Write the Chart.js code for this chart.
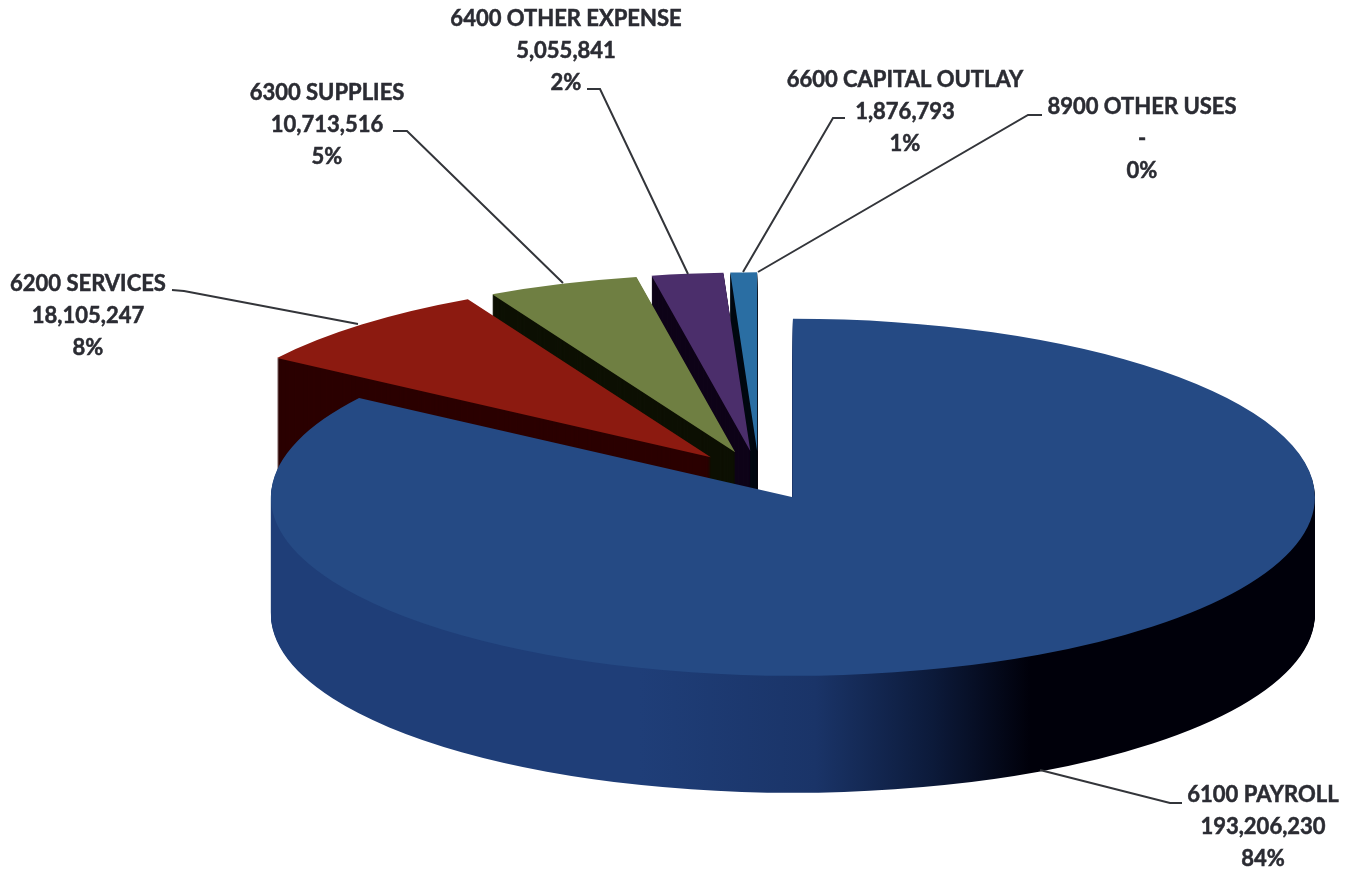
<!DOCTYPE html>
<html>
<head>
<meta charset="utf-8">
<title>Expenditures by object</title>
<style>
  html, body { margin: 0; padding: 0; background: #fff; }
  canvas { display: block; }
</style>
</head>
<body>
<canvas id="myChart" width="1346" height="871"></canvas>
<script src="https://cdn.jsdelivr.net/npm/chart.js@4/dist/chart.umd.min.js"></script>
<script>
const categories = ["6100 PAYROLL", "6200 SERVICES", "6300 SUPPLIES", "6400 OTHER EXPENSE", "6600 CAPITAL OUTLAY", "8900 OTHER USES"];
const amounts = [193206230, 18105247, 10713516, 5055841, 1876793, 0];

const topColors = ["#254a84", "#8c1a10", "#6f7f42", "#4b2e6b", "#2a6ea3", "#b5651d"];
const wallColors = ["#1f3e78", "#2b0000", "#0d1003", "#0e0318", "#020a12", "#000000"];

// where each label block sits, and the leader line running from it to its slice
const labelCenters = [[1263, 795], [88, 284], [327, 93], [566, 19], [905, 80], [1142, 107]];
const leaderLines = [
  [[1182, 803], [1170, 803], [1040, 770]],
  [[172, 290], [184, 291], [358, 324]],
  [[393, 131], [407, 131], [563, 283]],
  [[587, 89], [600, 89], [688, 274]],
  [[845, 118], [833, 118], [743, 272]],
  [[1042, 115], [1028, 115], [758, 272]]
];

// pie geometry on the page
const pieX = 759;
const pieY = 475.5;
const pieRadius = 522;
const squash = 0.342;
const explode = 72;
const depth = 117;
const lineGap = 32;

const total = amounts.reduce((a, b) => a + b, 0);

function labelLines(i) {
  const amount = amounts[i] === 0 ? "-" : amounts[i].toLocaleString("en-US");
  return [categories[i], amount, Math.round(amounts[i] / total * 100) + "%"];
}

// payroll's wall fades from blue to black going right
function wallFill(ctx, i, shiftX) {
  if (i !== 0) return wallColors[i];
  const grad = ctx.createLinearGradient(640 - shiftX, 0, 1030 - shiftX, 0);
  grad.addColorStop(0, wallColors[0]);
  grad.addColorStop(0.45, "#1a3468");
  grad.addColorStop(0.75, "#0c1a3a");
  grad.addColorStop(1, "#00000a");
  return grad;
}

const pie3d = {
  id: "pie3d",
  beforeDatasetsDraw(chart) {
    const ctx = chart.ctx;
    const arcs = chart.getDatasetMeta(0).data;

    // back slices first so the front ones cover them
    for (let i = arcs.length - 1; i >= 0; i--) {
      const arc = arcs[i];
      const mid = (arc.startAngle + arc.endAngle) / 2;
      const dx = Math.cos(mid) * explode;
      const dy = Math.sin(mid) * explode;
      const shiftX = pieX - arc.x + dx;

      const wall = new Chart.ArcElement({
        ...arc.getProps(["x", "y", "startAngle", "endAngle", "circumference", "innerRadius", "outerRadius"]),
        options: { offset: 0, spacing: 0, circular: true, borderWidth: 0, borderRadius: 0, backgroundColor: wallFill(ctx, i, shiftX) }
      });

      for (let z = depth; z >= 0; z--) {
        ctx.save();
        ctx.translate(pieX, pieY + z);
        ctx.scale(1, squash);
        ctx.translate(dx - arc.x, dy - arc.y);
        if (z === 0) arc.draw(ctx);
        else wall.draw(ctx);
        ctx.restore();
      }
    }
    return false;
  },
  afterDraw(chart) {
    const ctx = chart.ctx;
    ctx.save();

    ctx.strokeStyle = "#33353a";
    ctx.lineWidth = 2;
    leaderLines.forEach(points => {
      ctx.beginPath();
      points.forEach((p, n) => n === 0 ? ctx.moveTo(p[0], p[1]) : ctx.lineTo(p[0], p[1]));
      ctx.stroke();
    });

    ctx.fillStyle = "#2b2c33";
    ctx.strokeStyle = "#2b2c33";
    ctx.lineWidth = 0.5;
    ctx.font = "bold 22px Lato";
    ctx.textAlign = "center";
    ctx.textBaseline = "middle";
    categories.forEach((name, i) => {
      labelLines(i).forEach((text, n) => {
        const y = labelCenters[i][1] + n * lineGap;
        ctx.fillText(text, labelCenters[i][0], y);
        ctx.strokeText(text, labelCenters[i][0], y);
      });
    });
    ctx.restore();
  }
};

const myChart = new Chart(document.getElementById("myChart"), {
  type: "pie",
  data: {
    labels: categories,
    datasets: [{
      data: amounts,
      backgroundColor: topColors,
      borderWidth: 0
    }]
  },
  options: {
    responsive: false,
    animation: false,
    events: [],
    radius: pieRadius,
    plugins: {
      legend: { display: false },
      tooltip: { enabled: false }
    }
  },
  plugins: [pie3d]
});
</script>
</body>
</html>
